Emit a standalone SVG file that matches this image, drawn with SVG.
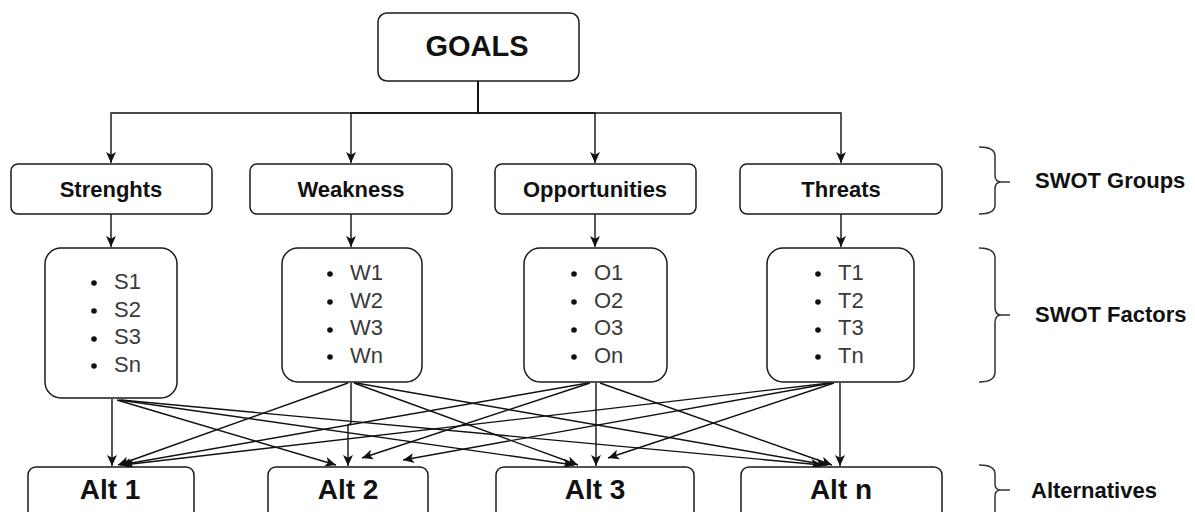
<svg xmlns="http://www.w3.org/2000/svg" width="1195" height="512" viewBox="0 0 1195 512">
<style>
.box{fill:#fff;stroke:#1a1a1a;stroke-width:1.5}
.t{font-family:"Liberation Sans",Arial,sans-serif;font-weight:bold;fill:#111;text-anchor:middle}
.f{font-family:"Liberation Sans",Arial,sans-serif;font-size:22px;fill:#3a3a3a}
.b{fill:#111}
.c{fill:none;stroke:#111;stroke-width:1.4}
.br{fill:none;stroke:#333;stroke-width:1.5}
.lab{font-family:"Liberation Sans",Arial,sans-serif;font-weight:bold;font-size:22px;fill:#111}
</style>
<defs>
<marker id="ah" viewBox="0 0 10 10" refX="10" refY="5" markerWidth="11" markerHeight="11" markerUnits="userSpaceOnUse" orient="auto">
<path d="M0,0.5 L10,5 L0,9.5 L2.5,5 z" fill="#111"/>
</marker>
</defs>

<g id="connectors" class="conn">
<path class="c" d="M478,81 V113 H111 V163" marker-end="url(#ah)"/>
<path class="c" d="M478,81 V113 H351 V163" marker-end="url(#ah)"/>
<path class="c" d="M478,81 V113 H595 V163" marker-end="url(#ah)"/>
<path class="c" d="M478,81 V113 H841 V163" marker-end="url(#ah)"/>
<path class="c" d="M111,214 V247" marker-end="url(#ah)"/>
<path class="c" d="M351,214 V247" marker-end="url(#ah)"/>
<path class="c" d="M595,214 V247" marker-end="url(#ah)"/>
<path class="c" d="M841,214 V247" marker-end="url(#ah)"/>
<path class="c" d="M112,399 V466" marker-end="url(#ah)"/>
<path class="c" d="M117,400 L336,465" marker-end="url(#ah)"/>
<path class="c" d="M119,400 L574,465" marker-end="url(#ah)"/>
<path class="c" d="M121,400 L822,465" marker-end="url(#ah)"/>
<path class="c" d="M348,383 L118,465" marker-end="url(#ah)"/>
<path class="c" d="M351,383 V423 L348,425 V466" marker-end="url(#ah)"/>
<path class="c" d="M354,383 L578,465" marker-end="url(#ah)"/>
<path class="c" d="M356,383 L827,465" marker-end="url(#ah)"/>
<path class="c" d="M588,383 L120,465" marker-end="url(#ah)"/>
<path class="c" d="M590,383 L362,458" marker-end="url(#ah)"/>
<path class="c" d="M596,383 V466" marker-end="url(#ah)"/>
<path class="c" d="M600,383 L832,465" marker-end="url(#ah)"/>
<path class="c" d="M830,383 L123,465" marker-end="url(#ah)"/>
<path class="c" d="M832,383 L403,460" marker-end="url(#ah)"/>
<path class="c" d="M834,383 L608,458" marker-end="url(#ah)"/>
<path class="c" d="M840,383 V466" marker-end="url(#ah)"/>
</g>

<g id="goals"><rect class="box" x="378" y="13" width="201" height="68" rx="9"/><text class="t" x="477" y="56" font-size="29">GOALS</text></g>

<g id="strengths"><rect class="box" x="11" y="164" width="201" height="50" rx="7"/><text class="t" x="111" y="197" font-size="22">Strenghts</text></g>
<g id="weakness"><rect class="box" x="250" y="164" width="202" height="50" rx="7"/><text class="t" x="351" y="197" font-size="22">Weakness</text></g>
<g id="opportunities"><rect class="box" x="495" y="164" width="201" height="50" rx="7"/><text class="t" x="595" y="197" font-size="22">Opportunities</text></g>
<g id="threats"><rect class="box" x="740" y="164" width="202" height="50" rx="7"/><text class="t" x="841" y="197" font-size="22">Threats</text></g>

<g id="s-factors"><rect class="box" x="45" y="248" width="132" height="150" rx="16"/>
<circle class="b" cx="94" cy="283" r="2.8"/><circle class="b" cx="94" cy="311" r="2.8"/><circle class="b" cx="94" cy="339" r="2.8"/><circle class="b" cx="94" cy="366" r="2.8"/>
<text class="f" x="114" y="289">S1</text><text class="f" x="114" y="317">S2</text><text class="f" x="114" y="344">S3</text><text class="f" x="114" y="372">Sn</text></g>

<g id="w-factors"><rect class="box" x="282" y="248" width="140" height="134" rx="16"/>
<circle class="b" cx="330" cy="274" r="2.8"/><circle class="b" cx="330" cy="302" r="2.8"/><circle class="b" cx="330" cy="330" r="2.8"/><circle class="b" cx="330" cy="357" r="2.8"/>
<text class="f" x="350" y="280">W1</text><text class="f" x="350" y="308">W2</text><text class="f" x="350" y="335">W3</text><text class="f" x="350" y="363">Wn</text></g>

<g id="o-factors"><rect class="box" x="524" y="248" width="143" height="134" rx="16"/>
<circle class="b" cx="574" cy="274" r="2.8"/><circle class="b" cx="574" cy="302" r="2.8"/><circle class="b" cx="574" cy="330" r="2.8"/><circle class="b" cx="574" cy="357" r="2.8"/>
<text class="f" x="594" y="280">O1</text><text class="f" x="594" y="308">O2</text><text class="f" x="594" y="335">O3</text><text class="f" x="594" y="363">On</text></g>

<g id="t-factors"><rect class="box" x="767" y="248" width="147" height="134" rx="16"/>
<circle class="b" cx="818" cy="274" r="2.8"/><circle class="b" cx="818" cy="302" r="2.8"/><circle class="b" cx="818" cy="330" r="2.8"/><circle class="b" cx="818" cy="357" r="2.8"/>
<text class="f" x="838" y="280">T1</text><text class="f" x="838" y="308">T2</text><text class="f" x="838" y="335">T3</text><text class="f" x="838" y="363">Tn</text></g>

<g id="alt1"><rect class="box" x="28" y="467" width="166" height="60" rx="8"/><text class="t" x="110" y="499" font-size="28">Alt 1</text></g>
<g id="alt2"><rect class="box" x="268" y="467" width="160" height="60" rx="8"/><text class="t" x="348" y="499" font-size="28">Alt 2</text></g>
<g id="alt3"><rect class="box" x="496" y="467" width="198" height="60" rx="8"/><text class="t" x="595" y="499" font-size="28">Alt 3</text></g>
<g id="altn"><rect class="box" x="741" y="467" width="201" height="60" rx="8"/><text class="t" x="841" y="499" font-size="28">Alt n</text></g>

<g id="label-groups"><path class="br" d="M979,147 Q995,147 995,156 V175 Q995,182 1001,182 H1010 M1001,182 Q995,182 995,189 V205 Q995,214 979,214"/><text class="lab" x="1035" y="188">SWOT Groups</text></g>
<g id="label-factors"><path class="br" d="M979,248 Q995,248 995,258 V307 Q995,315 1001,315 H1010 M1001,315 Q995,315 995,323 V372 Q995,382 979,382"/><text class="lab" x="1035" y="322">SWOT Factors</text></g>
<g id="label-alternatives"><path class="br" d="M979,465 Q995,465 995,474 V484 Q995,490 1001,490 H1010 M1001,490 Q995,490 995,496 V520"/><text class="lab" x="1031" y="498">Alternatives</text></g>
</svg>
